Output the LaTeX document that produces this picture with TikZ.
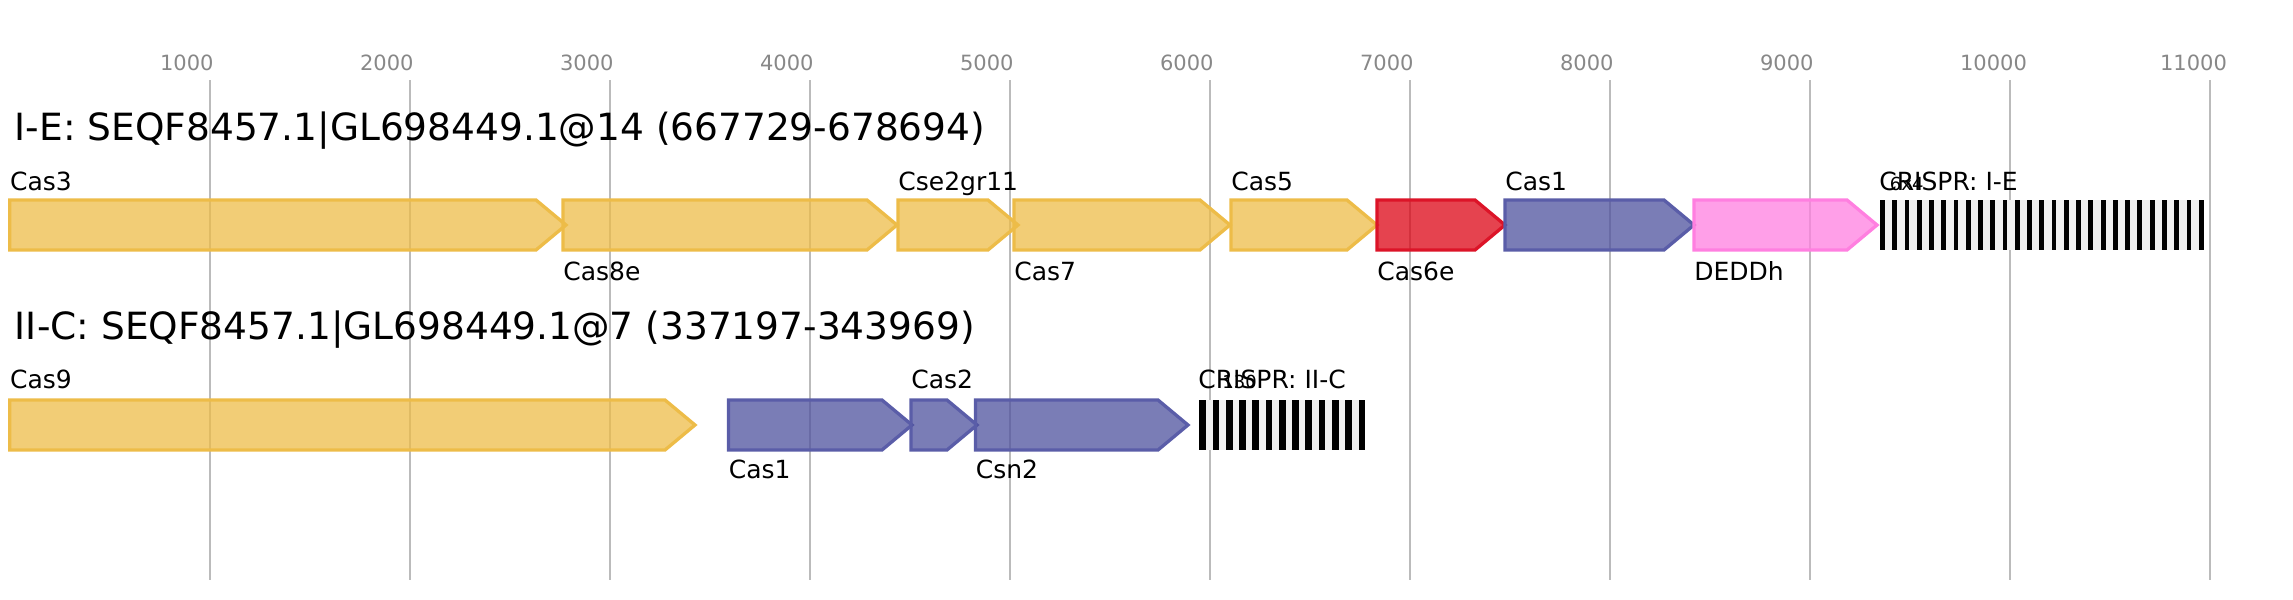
\documentclass[tikz,border=0pt]{standalone}
\usepackage{fontspec}
\setmainfont{DejaVu Sans}
\usepackage{xcolor}
\usepackage{tikz}

\definecolor{gelb}{HTML}{EDBC48}
\definecolor{blau}{HTML}{4E519E}
\definecolor{blaurand}{HTML}{5A5DA8}
\definecolor{rot}{HTML}{DC0414}
\definecolor{rotrand}{HTML}{DC1428}
\definecolor{rosa}{HTML}{FF7FE0}
\definecolor{gitter}{HTML}{BBBBBB}
\definecolor{achse}{HTML}{888888}
\definecolor{spacer}{HTML}{F0F0F0}

\begin{document}
\begin{tikzpicture}[x=0.5pt,y=-0.5pt,
		gen/.style={line width=1.65pt, line join=miter, fill opacity=0.75},
		gelbgen/.style={gen, draw=gelb, fill=gelb},
		blaugen/.style={gen, draw=blaurand, fill=blau},
		rotgen/.style={gen, draw=rotrand, fill=rot},
		rosagen/.style={gen, draw=rosa, fill=rosa},
		titel/.style={anchor=base west, inner sep=0pt, font=\fontsize{18.75}{22}\selectfont},
		lab/.style={anchor=base west, inner sep=0pt, font=\fontsize{12.5}{15}\selectfont},
		klein/.style={anchor=base west, inner sep=0pt, font=\fontsize{9}{11}\selectfont},
		tick/.style={anchor=base west, inner sep=0pt, text=achse, font=\fontsize{10.5}{13}\selectfont}]
		\useasboundingbox (0,0) rectangle (2293,600);

		% Gitter
		\foreach \k in {1,...,11}{
			\draw[gitter, line width=1pt] (9.7+200*\k,80) -- (9.7+200*\k,580);
			\node[tick] (t\k) at (9.7+200*\k-50,70) {\k000};
		}

		% Titel
		\node[titel] (ie) at (14.5,140) {I-E: SEQF8457.1|GL698449.1@14 (667729-678694)};
		\node[titel] (iic) at (14.5,339) {II-C: SEQF8457.1|GL698449.1@7 (337197-343969)};

		% Gene I-E
		\filldraw[gelbgen] (9.7,200) -- (536,200) -- (566,225) -- (536,250) -- (9.7,250) -- cycle;
		\filldraw[gelbgen] (563,200) -- (867,200) -- (897,225) -- (867,250) -- (563,250) -- cycle;
		\filldraw[gelbgen] (898,200) -- (988,200) -- (1018,225) -- (988,250) -- (898,250) -- cycle;
		\filldraw[gelbgen] (1014,200) -- (1200,200) -- (1230,225) -- (1200,250) -- (1014,250) -- cycle;
		\filldraw[gelbgen] (1231,200) -- (1347,200) -- (1377,225) -- (1347,250) -- (1231,250) -- cycle;
		\filldraw[rotgen] (1377,200) -- (1475,200) -- (1505,225) -- (1475,250) -- (1377,250) -- cycle;
		\filldraw[blaugen] (1505,200) -- (1664,200) -- (1694,225) -- (1664,250) -- (1505,250) -- cycle;
		\filldraw[rosagen] (1694,200) -- (1847,200) -- (1877,225) -- (1847,250) -- (1694,250) -- cycle;

		% CRISPR I-E
		\fill[spacer] (1880,200) rectangle (2203.5,250);
		\foreach \i in {0,...,26}
			\fill[black] (1880+\i*12.26,200) rectangle ++(4.8,50);

		% Gene II-C
		\filldraw[gelbgen] (9.7,400) -- (665,400) -- (695,425) -- (665,450) -- (9.7,450) -- cycle;
		\filldraw[blaugen] (728.5,400) -- (882,400) -- (912,425) -- (882,450) -- (728.5,450) -- cycle;
		\filldraw[blaugen] (911,400) -- (947,400) -- (977,425) -- (947,450) -- (911,450) -- cycle;
		\filldraw[blaugen] (975.5,400) -- (1158,400) -- (1188,425) -- (1158,450) -- (975.5,450) -- cycle;

		% CRISPR II-C
		\fill[spacer] (1199.3,400) rectangle (1365.2,450);
		\foreach \i in {0,...,12}
			\fill[black] (1199.3+\i*13.27,400) rectangle ++(6.7,50);

		% Beschriftung I-E
		\node[lab] (cas3) at (9.7,190) {Cas3};
		\node[lab] (cse) at (898,190) {Cse2gr11};
		\node[lab] (cas5) at (1231,190) {Cas5};
		\node[lab] (cas1a) at (1505,190) {Cas1};
		\node[lab] (crA) at (1879,190) {CRISPR: I-E};
		\node[klein] (nA) at (1889.5,190) {6x4};
		\node[lab] (cas8e) at (563,280.5) {Cas8e};
		\node[lab] (cas7) at (1014,280.5) {Cas7};
		\node[lab] (cas6e) at (1377,280.5) {Cas6e};
		\node[lab] (dedd) at (1694,280.5) {DEDDh};

		% Beschriftung II-C
		\node[lab] (cas9) at (9.7,388) {Cas9};
		\node[lab] (cas2) at (911,388) {Cas2};
		\node[lab] (crB) at (1198,388) {CRISPR: II-C};
		\node[klein] (nB) at (1222,388) {130};
		\node[lab] (cas1b) at (728.5,478) {Cas1};
		\node[lab] (csn2) at (975.5,478) {Csn2};
	\end{tikzpicture}
\end{document}
